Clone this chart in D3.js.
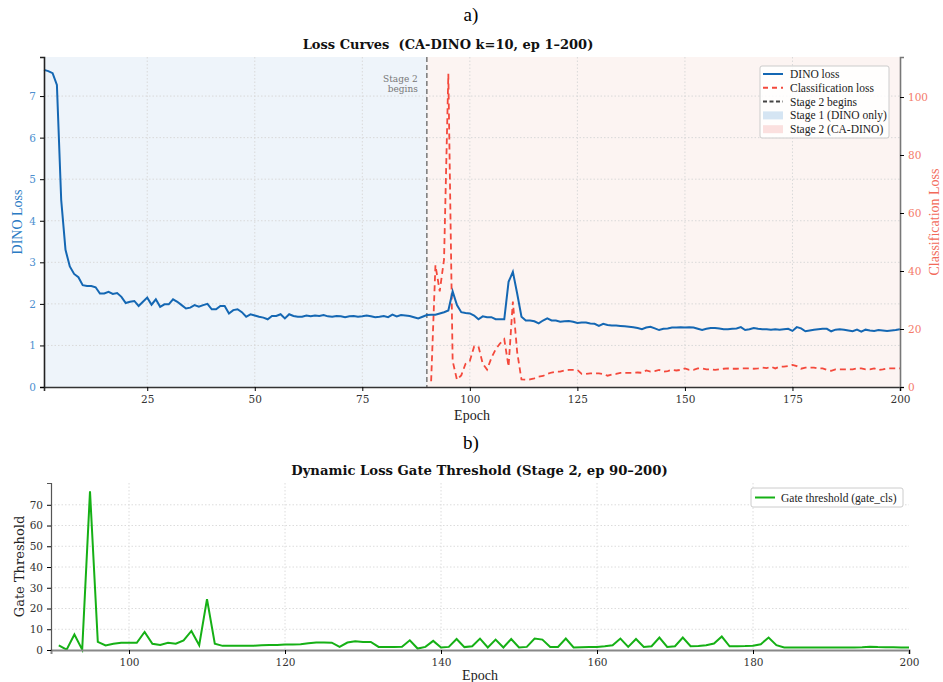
<!DOCTYPE html>
<html>
<head>
    <title>Loss curves</title>
    <script src="https://cdn.jsdelivr.net/npm/d3@7"></script>
    <style>
        body { margin: 0; background: #fff; }
        text { font-family: 'DejaVu Serif', serif; }
    </style>
</head>
<body>
    <svg width="943" height="682" id="mainsvg"></svg>
    <script>
        // ---- data ----
        const dinoLoss = [
            7.63, 7.60, 7.55, 7.27, 4.50, 3.30, 2.90, 2.72, 2.64, 2.45,
            2.43, 2.43, 2.40, 2.25, 2.25, 2.29, 2.24, 2.26, 2.17, 2.02,
            2.05, 2.07, 1.95, 2.05, 2.15, 1.98, 2.11, 1.93, 1.99, 1.99,
            2.11, 2.05, 1.97, 1.89, 1.91, 1.97, 1.93, 1.97, 2.00, 1.87,
            1.87, 1.95, 1.95, 1.77, 1.85, 1.87, 1.80, 1.69, 1.75, 1.72,
            1.69, 1.67, 1.63, 1.71, 1.71, 1.75, 1.65, 1.75, 1.71, 1.69,
            1.69, 1.72, 1.70, 1.72, 1.71, 1.73, 1.70, 1.69, 1.71, 1.70,
            1.68, 1.70, 1.71, 1.69, 1.70, 1.72, 1.70, 1.68, 1.69, 1.71,
            1.68, 1.74, 1.70, 1.73, 1.72, 1.71, 1.68, 1.65, 1.69, 1.73,
            1.74, 1.74, 1.77, 1.80, 1.84, 2.30, 1.97, 1.80, 1.78, 1.77,
            1.72, 1.63, 1.70, 1.68, 1.68, 1.63, 1.63, 1.63, 2.53, 2.77,
            2.25, 1.69, 1.60, 1.60, 1.58, 1.53, 1.60, 1.65, 1.60, 1.60,
            1.57, 1.58, 1.59, 1.57, 1.54, 1.55, 1.55, 1.53, 1.52, 1.47,
            1.52, 1.49, 1.48, 1.48, 1.47, 1.46, 1.45, 1.44, 1.42, 1.39,
            1.43, 1.45, 1.41, 1.37, 1.40, 1.41, 1.43, 1.43, 1.44, 1.43,
            1.44, 1.43, 1.40, 1.37, 1.40, 1.42, 1.42, 1.41, 1.39, 1.39,
            1.40, 1.41, 1.44, 1.37, 1.39, 1.42, 1.40, 1.39, 1.39, 1.38,
            1.39, 1.38, 1.39, 1.40, 1.35, 1.44, 1.41, 1.34, 1.36, 1.38,
            1.39, 1.40, 1.40, 1.34, 1.38, 1.39, 1.38, 1.36, 1.34, 1.38,
            1.33, 1.38, 1.36, 1.35, 1.37, 1.36, 1.35, 1.36, 1.37, 1.39
        ];
        const dinoEpochs = d3.range(1, 201);

        // classification loss and gate threshold exist from epoch 91 on
        const stage2Epochs = d3.range(91, 201);
        const clsLoss = [
            2.0, 42.0, 33.0, 44.0, 108.0, 9.0, 2.5, 4.0, 8.0, 9.0,
            14.0, 14.0, 8.0, 6.0, 10.0, 13.0, 15.0, 16.5, 7.0, 29.5,
            12.0, 2.6, 2.5, 2.6, 3.0, 3.6, 3.8, 4.5, 5.0, 5.3,
            5.3, 5.7, 5.9, 5.9, 5.9, 4.5, 4.5, 4.7, 4.7, 4.7,
            4.5, 3.9, 4.3, 4.5, 4.9, 4.9, 4.9, 4.9, 5.0, 4.9,
            5.7, 5.3, 5.5, 5.9, 5.3, 5.5, 5.9, 5.7, 5.9, 6.4,
            5.9, 5.9, 6.4, 6.4, 6.1, 6.1, 5.9, 6.1, 6.3, 6.4,
            6.3, 6.3, 6.4, 6.4, 6.4, 6.3, 6.4, 6.7, 6.5, 7.0,
            6.4, 7.0, 7.0, 7.2, 7.6, 7.2, 6.3, 6.7, 6.7, 6.7,
            6.4, 6.4, 5.9, 5.6, 6.1, 6.1, 6.1, 6.1, 6.1, 6.4,
            6.4, 6.1, 6.1, 6.4, 5.9, 6.1, 6.4, 6.4, 6.4, 6.4
        ];
        const gateThreshold = [
            2.2, 0.2, 7.5, 0.2, 76.5, 3.9, 2.2, 3.0, 3.5, 3.5,
            3.5, 8.7, 3.0, 2.4, 3.5, 3.0, 4.6, 9.2, 2.3, 24.5,
            3.0, 2.0, 2.0, 2.0, 2.0, 2.1, 2.3, 2.4, 2.4, 2.6,
            2.7, 2.8, 3.2, 3.6, 3.6, 3.5, 1.5, 3.6, 4.2, 3.9,
            3.9, 1.5, 1.5, 1.5, 1.6, 4.7, 0.7, 1.5, 4.4, 1.2,
            1.5, 5.3, 1.4, 1.8, 5.5, 1.2, 5.0, 1.2, 5.3, 1.2,
            1.5, 5.5, 5.0, 1.5, 1.5, 5.5, 1.2, 1.3, 1.4, 1.5,
            1.8, 2.3, 5.5, 1.5, 5.3, 1.5, 1.8, 6.0, 1.5, 1.8,
            6.0, 1.8, 1.9, 2.3, 3.1, 6.5, 1.8, 1.8, 1.9, 2.1,
            2.8, 6.0, 2.3, 1.2, 1.2, 1.2, 1.2, 1.2, 1.2, 1.2,
            1.2, 1.2, 1.2, 1.3, 1.6, 1.4, 1.3, 1.3, 1.2, 1.2
        ];
        const stageSplit = 90;
        const topXTicks = [25, 50, 75, 100, 125, 150, 175, 200];
        const dinoTicks = [0, 1, 2, 3, 4, 5, 6, 7];
        const clsTicks = [0, 20, 40, 60, 80, 100];
        const botXTicks = [100, 120, 140, 160, 180, 200];
        const gateTicks = [0, 10, 20, 30, 40, 50, 60, 70];

        const blue = '#1467b3', red = '#f4493c', green = '#15b015';

        const svg = d3.select('#mainsvg');

        // panel labels
        svg.append('text').attr('x', 471).attr('y', 21).attr('text-anchor', 'middle')
            .style('font-family', 'Liberation Serif').attr('font-size', 19).text('a)');
        svg.append('text').attr('x', 471).attr('y', 449).attr('text-anchor', 'middle')
            .style('font-family', 'Liberation Serif').attr('font-size', 19).text('b)');

        // ================= panel a =================
        const A = { left: 44, right: 900, top: 57, bottom: 387 };
        const xA = d3.scaleLinear().domain([1, 200]).range([A.left, A.right]);
        const yA = d3.scaleLinear().domain([0, 7.94]).range([A.bottom, A.top]);
        const yA2 = d3.scaleLinear().domain([0, 113.8]).range([A.bottom, A.top]);

        const ga = svg.append('g');
        ga.append('rect').attr('x', xA(1)).attr('y', A.top)
            .attr('width', xA(stageSplit) - xA(1)).attr('height', A.bottom - A.top)
            .attr('fill', '#eef4fa');
        ga.append('rect').attr('x', xA(stageSplit)).attr('y', A.top)
            .attr('width', xA(200) - xA(stageSplit)).attr('height', A.bottom - A.top)
            .attr('fill', '#fcf4f2');

        // grid
        ga.append('g').selectAll('line').data(topXTicks.slice(0, -1)).join('line')
            .attr('x1', d => xA(d)).attr('x2', d => xA(d))
            .attr('y1', A.top).attr('y2', A.bottom)
            .attr('stroke', '#d9d9d9').attr('stroke-dasharray', '1.5,2');
        ga.append('g').selectAll('line').data(dinoTicks.slice(1)).join('line')
            .attr('x1', A.left).attr('x2', A.right)
            .attr('y1', d => yA(d)).attr('y2', d => yA(d))
            .attr('stroke', '#d9d9d9').attr('stroke-dasharray', '1.5,2');

        // stage split line
        ga.append('line').attr('x1', xA(stageSplit)).attr('x2', xA(stageSplit))
            .attr('y1', A.top).attr('y2', A.bottom)
            .attr('stroke', '#808080').attr('stroke-width', 1.6).attr('stroke-dasharray', '5,3');
        const note = ga.append('text').attr('text-anchor', 'end').attr('fill', '#777')
            .attr('font-size', 9);
        note.append('tspan').attr('x', xA(stageSplit) - 9).attr('y', 82).text('Stage 2');
        note.append('tspan').attr('x', xA(stageSplit) - 9).attr('y', 92).text('begins');

        // lines
        const lineCls = d3.line().x((d, i) => xA(stage2Epochs[i])).y(d => yA2(d));
        ga.append('path').datum(clsLoss).attr('d', lineCls)
            .attr('fill', 'none').attr('stroke', red).attr('stroke-width', 1.8)
            .attr('stroke-dasharray', '6,4');
        const lineDino = d3.line().x((d, i) => xA(dinoEpochs[i])).y(d => yA(d));
        ga.append('path').datum(dinoLoss).attr('d', lineDino)
            .attr('fill', 'none').attr('stroke', blue).attr('stroke-width', 2);

        // axes
        const axA = ga.append('g').attr('transform', `translate(0,${A.bottom})`)
            .call(d3.axisBottom(xA).tickValues(topXTicks).tickSize(4).tickPadding(5));
        axA.select('.domain').attr('stroke', '#333').attr('stroke-width', 1.6);
        axA.selectAll('text').attr('font-size', 10.5).attr('fill', '#333')
            .style('font-family', 'DejaVu Serif');
        const ayA = ga.append('g').attr('transform', `translate(${A.left},0)`)
            .call(d3.axisLeft(yA).tickValues(dinoTicks).tickSize(4).tickPadding(4));
        ayA.select('.domain').attr('stroke', '#222').attr('stroke-width', 1.6);
        ayA.selectAll('text').attr('font-size', 10.5).attr('fill', '#4d8fcf')
            .style('font-family', 'DejaVu Serif');
        const ayA2 = ga.append('g').attr('transform', `translate(${A.right},0)`)
            .call(d3.axisRight(yA2).tickValues(clsTicks).tickSize(4).tickPadding(4));
        ayA2.select('.domain').attr('stroke', '#777').attr('stroke-width', 1.6);
        ayA2.selectAll('text').attr('font-size', 10.5).attr('fill', '#f47b6b')
            .style('font-family', 'DejaVu Serif');

        ga.append('text').attr('x', (A.left + A.right) / 2).attr('y', 420)
            .attr('text-anchor', 'middle').attr('font-size', 14).attr('fill', '#222')
            .style('font-family', 'Liberation Serif').text('Epoch');
        ga.append('text').attr('transform', `translate(22,${(A.top + A.bottom) / 2}) rotate(-90)`)
            .attr('text-anchor', 'middle').attr('font-size', 14).attr('fill', '#2a7bc4')
            .style('font-family', 'Liberation Serif').text('DINO Loss');
        ga.append('text').attr('transform', `translate(939,${(A.top + A.bottom) / 2}) rotate(-90)`)
            .attr('text-anchor', 'middle').attr('font-size', 14).attr('fill', '#f26a5a')
            .style('font-family', 'Liberation Serif').text('Classification Loss');

        ga.append('text').attr('x', 448).attr('y', 49)
            .attr('text-anchor', 'middle').attr('font-size', 13).attr('font-weight', 'bold')
            .attr('fill', '#111').style('white-space', 'pre')
            .text('Loss Curves  (CA-DINO k=10, ep 1\u2013200)');

        // legend a
        const legA = ga.append('g').attr('transform', 'translate(760,66)');
        legA.append('rect').attr('width', 129).attr('height', 72)
            .attr('fill', '#fff').attr('fill-opacity', 0.85).attr('stroke', '#ccc').attr('rx', 2);
        const legItems = [
            { label: 'DINO loss', type: 'line', color: blue, dash: null },
            { label: 'Classification loss', type: 'line', color: red, dash: '5,4' },
            { label: 'Stage 2 begins', type: 'line', color: '#444', dash: '4,2.5' },
            { label: 'Stage 1 (DINO only)', type: 'patch', color: '#d5e5f3' },
            { label: 'Stage 2 (CA-DINO)', type: 'patch', color: '#fbe0df' }
        ];
        legItems.forEach((it, i) => {
            const y = 8 + i * 13.8;
            if (it.type === 'line') {
                legA.append('line').attr('x1', 3).attr('x2', 23).attr('y1', y).attr('y2', y)
                    .attr('stroke', it.color).attr('stroke-width', 2)
                    .attr('stroke-dasharray', it.dash);
            } else {
                legA.append('rect').attr('x', 3).attr('y', y - 4).attr('width', 20).attr('height', 8)
                    .attr('fill', it.color);
            }
            legA.append('text').attr('x', 30).attr('y', y + 4).attr('font-size', 11.5)
                .attr('fill', '#222').style('font-family', 'Liberation Serif').text(it.label);
        });

        // ================= panel b =================
        const B = { left: 51, right: 909, top: 483, bottom: 650 };
        const xB = d3.scaleLinear().domain([90, 200]).range([B.left, B.right]);
        const yB = d3.scaleLinear().domain([0, 80.5]).range([B.bottom, B.top]);
        const gb = svg.append('g');

        gb.append('g').selectAll('line').data(botXTicks.slice(0, -1)).join('line')
            .attr('x1', d => xB(d)).attr('x2', d => xB(d))
            .attr('y1', B.top).attr('y2', B.bottom)
            .attr('stroke', '#dcdcdc').attr('stroke-dasharray', '1.5,2');
        gb.append('g').selectAll('line').data(gateTicks.slice(1)).join('line')
            .attr('x1', B.left).attr('x2', B.right)
            .attr('y1', d => yB(d)).attr('y2', d => yB(d))
            .attr('stroke', '#dcdcdc').attr('stroke-dasharray', '1.5,2');

        const lineGate = d3.line().x((d, i) => xB(stage2Epochs[i])).y(d => yB(d));
        gb.append('path').datum(gateThreshold).attr('d', lineGate)
            .attr('fill', 'none').attr('stroke', green).attr('stroke-width', 2);

        const axB = gb.append('g').attr('transform', `translate(0,${B.bottom})`)
            .call(d3.axisBottom(xB).tickValues(botXTicks).tickSize(4).tickPadding(5));
        axB.select('.domain').attr('stroke', '#888').attr('stroke-width', 2);
        axB.selectAll('text').attr('font-size', 10.5).attr('fill', '#333')
            .style('font-family', 'DejaVu Serif');
        const ayB = gb.append('g').attr('transform', `translate(${B.left},0)`)
            .call(d3.axisLeft(yB).tickValues(gateTicks).tickSize(4).tickPadding(4));
        ayB.select('.domain').attr('stroke', '#555').attr('stroke-width', 1.2);
        ayB.selectAll('text').attr('font-size', 10.5).attr('fill', '#333')
            .style('font-family', 'DejaVu Serif');

        gb.append('text').attr('x', (B.left + B.right) / 2).attr('y', 680)
            .attr('text-anchor', 'middle').attr('font-size', 14).attr('fill', '#222')
            .style('font-family', 'Liberation Serif').text('Epoch');
        gb.append('text').attr('transform', `translate(24,${(B.top + B.bottom) / 2}) rotate(-90)`)
            .attr('text-anchor', 'middle').attr('font-size', 13).attr('fill', '#222')
            .text('Gate Threshold');
        gb.append('text').attr('x', 479.5).attr('y', 475)
            .attr('text-anchor', 'middle').attr('font-size', 13.2).attr('font-weight', 'bold')
            .attr('fill', '#111').text('Dynamic Loss Gate Threshold (Stage 2, ep 90\u2013200)');

        const legB = gb.append('g').attr('transform', 'translate(751,488)');
        legB.append('rect').attr('width', 152).attr('height', 19)
            .attr('fill', '#fff').attr('stroke', '#ccc').attr('rx', 2);
        legB.append('line').attr('x1', 4).attr('x2', 24).attr('y1', 9.5).attr('y2', 9.5)
            .attr('stroke', green).attr('stroke-width', 2);
        legB.append('text').attr('x', 30).attr('y', 13.5).attr('font-size', 11.5)
            .attr('fill', '#222').style('font-family', 'Liberation Serif')
            .text('Gate threshold (gate_cls)');
    </script>
</body>
</html>
